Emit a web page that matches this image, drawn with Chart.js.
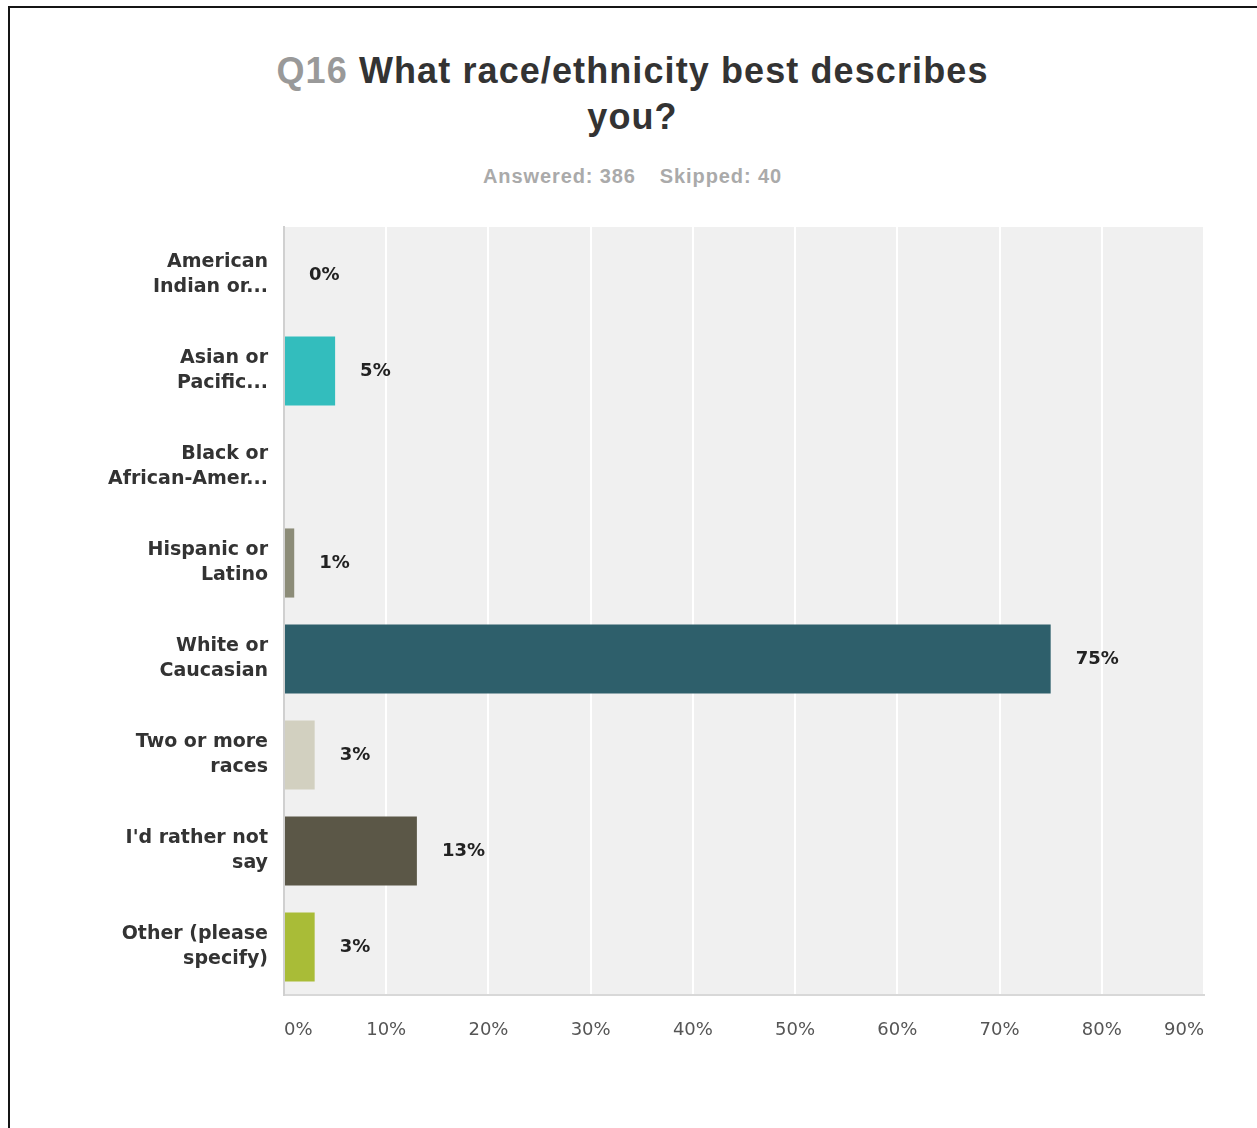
<!DOCTYPE html>
<html>
<head>
<meta charset="utf-8">
<title>Q16 What race/ethnicity best describes you?</title>
<script src="https://cdn.jsdelivr.net/npm/chart.js@4.4.1/dist/chart.umd.min.js"></script>
<style>
  html, body { margin: 0; padding: 0; background: #fff; }
  body { width: 1257px; height: 1128px; position: relative; overflow: hidden; }
  .frame {
    position: absolute; left: 8px; top: 6px; width: 1400px; height: 1300px;
    border-top: 2px solid #151515; border-left: 2px solid #151515;
  }
  .heading {
    position: absolute; left: 4px; top: 48px; width: 1257px; margin: 0;
    text-align: center; font: bold 36px "Liberation Sans", Arial, sans-serif;
    letter-spacing: 1.1px; line-height: 46px; color: #333;
  }
  .heading .qnum { color: #999; }
  .counts {
    position: absolute; left: 4px; top: 164px; width: 1257px;
    text-align: center; font: bold 20px "Liberation Sans", Arial, sans-serif;
    letter-spacing: 0.9px; line-height: 24px; color: #aaa;
  }
  .counts span + span { margin-left: 24px; }
  canvas { position: absolute; left: 0; top: 0; }
</style>
</head>
<body>
<div class="frame"></div>
<h1 class="heading"><span class="qnum">Q16</span> What race/ethnicity best describes<br>you?</h1>
<div class="counts"><span>Answered: 386</span><span>Skipped: 40</span></div>
<canvas id="raceChart" width="1257" height="1128"></canvas>
<script>
const answers = [
  ['American', 'Indian or...'],
  ['Asian or', 'Pacific...'],
  ['Black or', 'African-Amer...'],
  ['Hispanic or', 'Latino'],
  ['White or', 'Caucasian'],
  ['Two or more', 'races'],
  ["I'd rather not", 'say'],
  ['Other (please', 'specify)']
];
// percent of respondents; null = no result shown
const percents = [0, 5, null, 1, 75, 3, 13, 3];
const barColors = ['#1f7c8c', '#33bdbd', '#7d7d6b', '#8c8c78', '#2e5f6b', '#d2d0c0', '#5b5747', '#a9bc37'];
const xTicks = [0, 10, 20, 30, 40, 50, 60, 70, 80, 90];

// grey panel behind the bars
const plotBackground = {
  id: 'plotBackground',
  beforeDraw(chart) {
    const { ctx, chartArea: a } = chart;
    ctx.save();
    ctx.fillStyle = '#f0f0f0';
    ctx.fillRect(a.left, a.top, a.right - a.left, a.bottom - a.top);
    ctx.restore();
  }
};

// "NN%" text to the right of each bar
const valueLabels = {
  id: 'valueLabels',
  afterDatasetsDraw(chart) {
    const ctx = chart.ctx;
    const meta = chart.getDatasetMeta(0);
    ctx.save();
    ctx.font = 'bold 18px "DejaVu Sans"';
    ctx.fillStyle = '#222';
    ctx.textAlign = 'left';
    ctx.textBaseline = 'middle';
    meta.data.forEach((bar, i) => {
      const v = percents[i];
      if (v === null) return;
      ctx.fillText(v + '%', bar.x + 25, bar.y);
    });
    ctx.restore();
  }
};

const ctx = document.getElementById('raceChart').getContext('2d');
const raceChart = new Chart(ctx, {
  type: 'bar',
  data: {
    labels: answers,
    datasets: [{
      data: percents,
      backgroundColor: barColors,
      borderWidth: 0,
      categoryPercentage: 0.72,
      barPercentage: 1
    }]
  },
  options: {
    indexAxis: 'y',
    responsive: false,
    devicePixelRatio: 1,
    animation: false,
    layout: { padding: { top: 227, right: 53, bottom: 0, left: 0 } },
    plugins: {
      legend: { display: false },
      title: { display: false },
      tooltip: { enabled: false }
    },
    scales: {
      x: {
        min: 0,
        max: 90,
        afterFit(scale) { scale.height = 133; },
        afterBuildTicks(scale) { scale.ticks = xTicks.map(v => ({ value: v })); },
        grid: { color: '#ffffff', lineWidth: 2, drawTicks: false },
        border: { color: '#d8d8d8', width: 2 },
        ticks: {
          align: 'inner',
          padding: 25,
          color: '#555',
          font: { family: 'DejaVu Sans', size: 18 },
          callback: v => v + '%'
        }
      },
      y: {
        afterFit(scale) { scale.width = 284; },
        grid: { display: false, drawTicks: false },
        border: { color: '#d0d0d0', width: 2 },
        ticks: {
          padding: 16,
          color: '#333',
          font: { family: 'DejaVu Sans', size: 19, weight: 'bold', lineHeight: 1.32 }
        }
      }
    }
  },
  plugins: [plotBackground, valueLabels]
});
</script>
</body>
</html>
